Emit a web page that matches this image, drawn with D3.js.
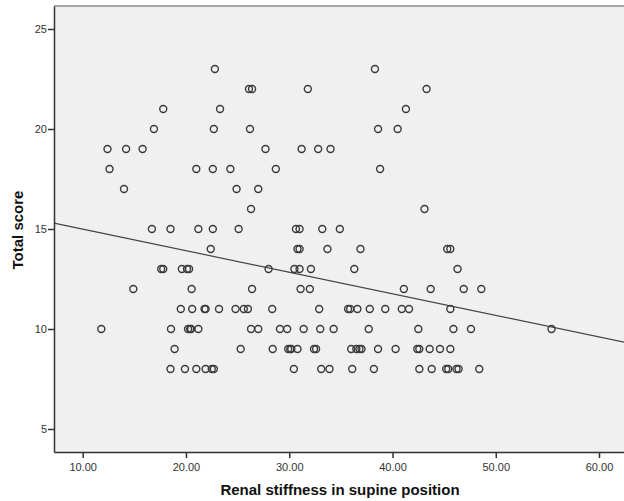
<!DOCTYPE html>
<html lang="en">
    <head>
        <meta charset="UTF-8">
        <script src="https://cdn.jsdelivr.net/npm/d3@7/dist/d3.min.js"></script>
        <title>Scatter</title>
        <style>
            body { margin: 0; background: #fff; }
            text { font-family: "Liberation Sans", Arial, sans-serif; }
            .tick text { font-size: 11px; fill: #333; }
            .axis path, .axis line { stroke: #333; }
        </style>
    </head>
    <body>
        <svg id="canvas" width="624" height="501"></svg>

        <script>
            // Renal stiffness (x) grouped by total score (y)
            var scoreLevels = [23, 22, 21, 20, 19, 18, 17, 16, 15, 14, 13, 12, 11, 10, 9, 8];
            var stiffnessByScore = [
                [22.8, 38.3],
                [26.1, 26.4, 31.8, 43.3],
                [17.8, 23.3, 41.3],
                [16.9, 22.7, 26.2, 38.6, 40.5],
                [12.4, 14.2, 15.8, 27.7, 31.2, 32.8, 34.0],
                [12.6, 21.0, 22.6, 24.3, 28.7, 38.8],
                [14.0, 24.9, 27.0],
                [26.3, 43.1],
                [16.7, 18.5, 21.2, 22.6, 25.1, 30.65, 31.0, 33.2, 34.9],
                [22.4, 30.8, 31.0, 33.7, 36.9, 45.3, 45.6],
                [17.6, 17.8, 19.6, 20.1, 20.3, 28.0, 30.5, 31.0, 32.1, 36.3, 46.3],
                [14.9, 20.55, 26.4, 31.1, 32.0, 41.1, 43.7, 46.9, 48.6],
                [19.5, 20.6, 21.8, 21.9, 23.2, 24.8, 25.6, 26.0, 28.35, 32.9, 35.7, 35.9, 36.6, 37.8, 39.3, 40.9, 41.6, 45.6],
                [11.8, 18.55, 20.2, 20.4, 20.5, 21.2, 26.3, 27.0, 29.1, 29.8, 31.4, 33.0, 34.3, 37.7, 42.5, 45.9, 47.6, 55.4],
                [18.9, 25.3, 28.4, 29.9, 30.1, 30.2, 30.8, 32.4, 32.6, 36.0, 36.5, 36.8, 37.0, 38.6, 40.3, 42.4, 42.6, 43.6, 44.6, 45.6],
                [18.5, 19.9, 21.0, 21.9, 22.5, 22.7, 30.45, 33.1, 33.9, 36.1, 38.2, 42.6, 43.8, 45.2, 45.4, 46.2, 46.4, 48.4]
            ];
            var xTicks = [10, 20, 30, 40, 50, 60];
            var yTicks = [5, 10, 15, 20, 25];
            // fit line
            var fitIntercept = 16.07,
                fitSlope = -0.1077;

            var points = [];
            scoreLevels.forEach(function(s, i) {
                stiffnessByScore[i].forEach(function(v) {
                    points.push([v, s]);
                });
            });

            var svg = d3.select("svg#canvas"),
                plotLeft = 54, plotTop = 6, plotBottom = 452, plotRight = 630;

            var x = d3.scaleLinear().domain([7.22, 63]).range([plotLeft, plotRight]),
                y = d3.scaleLinear().domain([3.85, 26.15]).range([plotBottom, plotTop]);

            svg.append("rect")
                .attr("x", plotLeft).attr("y", plotTop)
                .attr("width", plotRight - plotLeft).attr("height", plotBottom - plotTop)
                .attr("fill", "#f0f0f0");

            svg.append("line")
                .attr("x1", plotLeft).attr("x2", plotRight)
                .attr("y1", plotTop).attr("y2", plotTop)
                .attr("stroke", "#8a8a8a").attr("stroke-width", 1.5);

            var line = d3.line()
                          .x(function(d) { return x(d); })
                          .y(function(d) { return y(fitIntercept + fitSlope * d); });
            svg.append("path")
                .attr("d", line(x.domain()))
                .attr("stroke", "#444")
                .attr("stroke-width", 1.2)
                .attr("fill", "none");

            svg.append("g").selectAll("circle")
                .data(points)
                .enter().append("circle")
                .attr("cx", function(d) { return x(d[0]); })
                .attr("cy", function(d) { return y(d[1]); })
                .attr("r", 3.5)
                .attr("fill", "none")
                .attr("stroke", "#3a3a3a")
                .attr("stroke-width", 1.4);

            svg.append("g").attr("class", "axis")
                .attr("transform", "translate(0," + plotBottom + ")")
                .call(d3.axisBottom(x).tickValues(xTicks).tickSize(6).tickSizeOuter(0)
                    .tickFormat(d3.format(".2f")))
                .call(function(g) {
                    g.select(".domain").attr("stroke-width", 1.5);
                    g.selectAll(".tick line").attr("stroke-width", 1.5);
                    g.selectAll(".tick text").attr("dy", "0.9em");
                });

            svg.append("g").attr("class", "axis")
                .attr("transform", "translate(" + plotLeft + ",0)")
                .call(d3.axisLeft(y).tickValues(yTicks).tickSize(6).tickSizeOuter(0))
                .call(function(g) {
                    g.select(".domain").attr("stroke-width", 1.5);
                    g.selectAll(".tick line").attr("stroke-width", 1.5);
                    g.selectAll(".tick text").attr("x", -7);
                });

            svg.append("text")
                .attr("x", 340).attr("y", 495)
                .attr("text-anchor", "middle")
                .attr("font-size", "15px").attr("font-weight", "bold")
                .attr("fill", "#111")
                .text("Renal stiffness in supine position");

            svg.append("text")
                .attr("transform", "translate(23,230) rotate(-90)")
                .attr("text-anchor", "middle")
                .attr("font-size", "15px").attr("font-weight", "bold")
                .attr("fill", "#111")
                .text("Total score");
        </script>
    </body>
</html>
